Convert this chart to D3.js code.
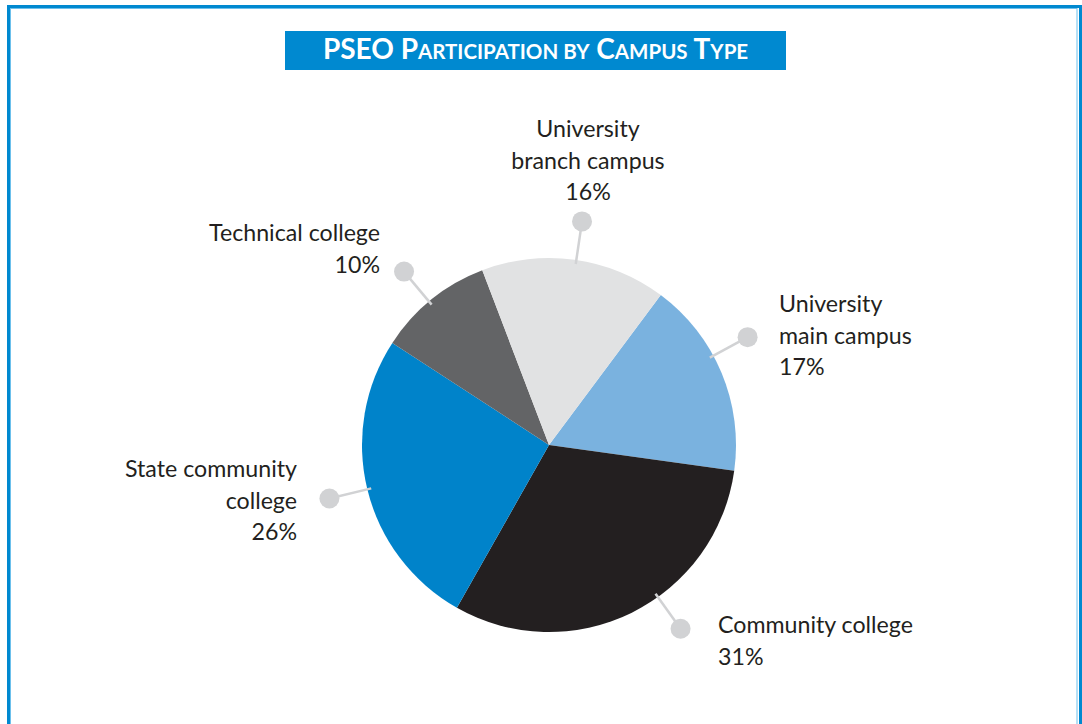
<!DOCTYPE html>
<html>
<head>
<meta charset="utf-8">
<script src="https://cdn.jsdelivr.net/npm/d3@7"></script>
<style>
  html, body { margin: 0; padding: 0; background: #fff; }
  svg { display: block; }
</style>
</head>
<body>
<svg id="chart" width="1082" height="724"></svg>
<script>
// Campus types, listed clockwise from the upper-right slice
const categories = ["University main campus", "Community college", "State community college", "Technical college", "University branch campus"];
const shares = [17, 31, 26, 10, 16];
const labelLines = [
  ["University", "main campus", "17%"],
  ["Community college", "31%"],
  ["State community", "college", "26%"],
  ["Technical college", "10%"],
  ["University", "branch campus", "16%"]
];
const sliceColors = ["#7ab2df", "#231f20", "#0083ca", "#636466", "#e1e2e3"];

const svg = d3.select("#chart");
const W = 1082, H = 724;
const cx = 549, cy = 445, R = 187;
const dotR = 226;
const FONT = "Lato, 'Open Sans', sans-serif";

// page frame
svg.append("rect").attr("x", 8.5).attr("y", 6.5).attr("width", W - 8.5 - 1.5).attr("height", H + 20)
  .attr("fill", "none").attr("stroke", "#0089d0").attr("stroke-width", 3);
svg.append("rect").attr("x", 10.5).attr("y", 8.5).attr("width", W - 12.5 - 3).attr("height", H + 20)
  .attr("fill", "none").attr("stroke", "#6cc0ec").attr("stroke-width", 1);

// title banner
svg.append("rect").attr("x", 285).attr("y", 31).attr("width", 501).attr("height", 39).attr("fill", "#0089d0");
const title = svg.append("text").attr("x", 535.5).attr("y", 59)
  .attr("text-anchor", "middle").attr("fill", "#fff")
  .attr("font-family", FONT).attr("font-weight", 700);
const titleWords = ["PSEO", "Participation", "by", "Campus", "Type"];
titleWords.forEach((w, i) => {
  const sep = i ? " " : "";
  if (w === w.toUpperCase()) {
    title.append("tspan").attr("font-size", 28).text(sep + w);
  } else {
    const first = /^[A-Z]/.test(w);
    if (first) {
      title.append("tspan").attr("font-size", 28).text(sep + w[0]);
      title.append("tspan").attr("font-size", 20.5).text(w.slice(1).toUpperCase());
    } else {
      title.append("tspan").attr("font-size", 20.5).text(sep + w.toUpperCase());
    }
  }
});

// pie
const pie = d3.pie().sort(null).value(d => d)
  .startAngle(36.7 * Math.PI / 180).endAngle(36.7 * Math.PI / 180 + 2 * Math.PI);
const arcs = pie(shares);
const arc = d3.arc().innerRadius(0).outerRadius(R);

const g = svg.append("g").attr("transform", `translate(${cx},${cy})`);
g.selectAll("path.slice").data(arcs).enter().append("path")
  .attr("class", "slice")
  .attr("d", arc)
  .attr("fill", (d, i) => sliceColors[i]);

// leader lines: small angular nudges keep the callouts clear of their labels
const nudgeDeg = [-5.8, -9.3, 0, -1.0, 0.5];
const callout = g.append("g");
arcs.forEach((d, i) => {
  const a = (d.startAngle + d.endAngle) / 2 + nudgeDeg[i] * Math.PI / 180;
  const sx = Math.sin(a), sy = -Math.cos(a);
  callout.append("line")
    .attr("x1", sx * (R - 4)).attr("y1", sy * (R - 4))
    .attr("x2", sx * dotR).attr("y2", sy * dotR)
    .attr("stroke", "#d1d2d4").attr("stroke-width", 2.5);
  callout.append("circle")
    .attr("cx", sx * dotR).attr("cy", sy * dotR).attr("r", 10)
    .attr("fill", "#d1d2d4");
});

// labels
const labelAnchor = [
  { x: 779, y: 312, anchor: "start" },
  { x: 718, y: 633, anchor: "start" },
  { x: 297, y: 477, anchor: "end" },
  { x: 380, y: 241, anchor: "end" },
  { x: 588, y: 137, anchor: "middle" }
];
const lineGap = 31.5;
labelLines.forEach((lines, i) => {
  const p = labelAnchor[i];
  const t = svg.append("text")
    .attr("x", p.x).attr("y", p.y)
    .attr("text-anchor", p.anchor)
    .attr("font-family", FONT).attr("font-size", 23.2)
    .attr("fill", "#231f20");
  lines.forEach((ln, j) => {
    t.append("tspan").attr("x", p.x).attr("y", p.y + j * lineGap).text(ln);
  });
});
</script>
</body>
</html>
